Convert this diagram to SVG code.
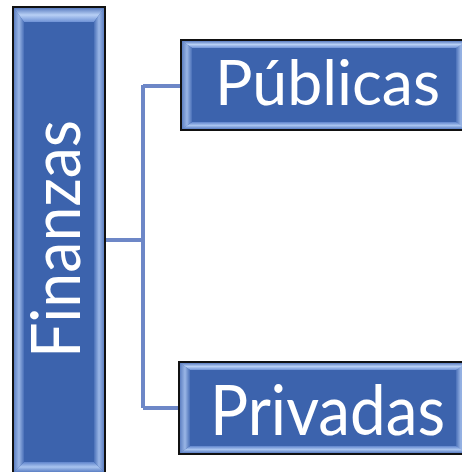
<svg xmlns="http://www.w3.org/2000/svg" width="462" height="472" viewBox="0 0 462 472">
  <defs>
    <linearGradient id="gTop" x1="0" y1="0" x2="0" y2="1">
      <stop offset="0" stop-color="#5a7cc0"/>
      <stop offset="0.5" stop-color="#b8d0f5"/>
      <stop offset="1" stop-color="#6f92d6"/>
    </linearGradient>
    <linearGradient id="gBot" x1="0" y1="1" x2="0" y2="0">
      <stop offset="0" stop-color="#5b7fc4"/>
      <stop offset="0.5" stop-color="#a9c4ef"/>
      <stop offset="1" stop-color="#5f84cc"/>
    </linearGradient>
    <linearGradient id="gLeft" x1="0" y1="0" x2="1" y2="0">
      <stop offset="0" stop-color="#5e80c2"/>
      <stop offset="0.5" stop-color="#9ab6e6"/>
      <stop offset="1" stop-color="#4a70b8"/>
    </linearGradient>
    <linearGradient id="gRight" x1="1" y1="0" x2="0" y2="0">
      <stop offset="0" stop-color="#5e80c2"/>
      <stop offset="0.5" stop-color="#9ab6e6"/>
      <stop offset="1" stop-color="#4a70b8"/>
    </linearGradient>
  </defs>
  <style>
    .box { fill: #3c63ad; stroke: #111; stroke-width: 2; }
    .lbl { fill: #ffffff; font-family: "Lato", "Open Sans", "Liberation Sans", sans-serif; }
    .conn { fill: none; stroke: #6d87c7; stroke-width: 4; }
  </style>

  <g id="connectors">
    <path class="conn" d="M105 240 H143 M143 85 V408 M143 86 H181 M143 408 H179"/>
  </g>

  <g id="finanzas">
    <rect class="box" x="13" y="7" width="92" height="466"/>
    <polygon points="14,8 104,8 94,22 24,22" fill="url(#gTop)"/>
    <polygon points="14,472 104,472 94,462 24,462" fill="url(#gBot)"/>
    <polygon points="14,8 24,22 24,462 14,472" fill="url(#gLeft)"/>
    <polygon points="104,8 94,22 94,462 104,472" fill="url(#gRight)"/>
    <rect x="24" y="22" width="70" height="440" fill="#3c63ad"/>
    <text class="lbl" x="0" y="0" font-size="68" textLength="238" lengthAdjust="spacingAndGlyphs" transform="translate(80 358) rotate(-90)">Finanzas</text>
  </g>

  <g id="publicas">
    <rect class="box" x="181" y="40" width="300" height="90"/>
    <polygon points="182,41 480,41 470,48 192,48" fill="url(#gTop)"/>
    <polygon points="182,129 480,129 470,122 192,122" fill="url(#gBot)"/>
    <polygon points="182,41 192,48 192,122 182,129" fill="url(#gLeft)"/>
    <polygon points="466,41 456,48 456,122 466,129" fill="url(#gRight)"/>
    <rect x="192" y="48" width="264" height="74" fill="#3c63ad"/>
    <rect x="466" y="41" width="20" height="88" fill="#3c63ad"/>
    <text class="lbl" x="215" y="105" font-size="61" textLength="225" lengthAdjust="spacingAndGlyphs">Públicas</text>
  </g>

  <g id="privadas">
    <rect class="box" x="179" y="362" width="300" height="92"/>
    <polygon points="180,363 480,363 470,370 190,370" fill="url(#gTop)"/>
    <polygon points="180,453 480,453 470,446 190,446" fill="url(#gBot)"/>
    <polygon points="180,363 190,370 190,446 180,453" fill="url(#gLeft)"/>
    <polygon points="466,363 456,370 456,446 466,453" fill="url(#gRight)"/>
    <rect x="190" y="370" width="266" height="76" fill="#3c63ad"/>
    <rect x="466" y="363" width="20" height="90" fill="#3c63ad"/>
    <text class="lbl" x="210" y="435" font-size="70" textLength="235" lengthAdjust="spacingAndGlyphs">Privadas</text>
  </g>
</svg>
